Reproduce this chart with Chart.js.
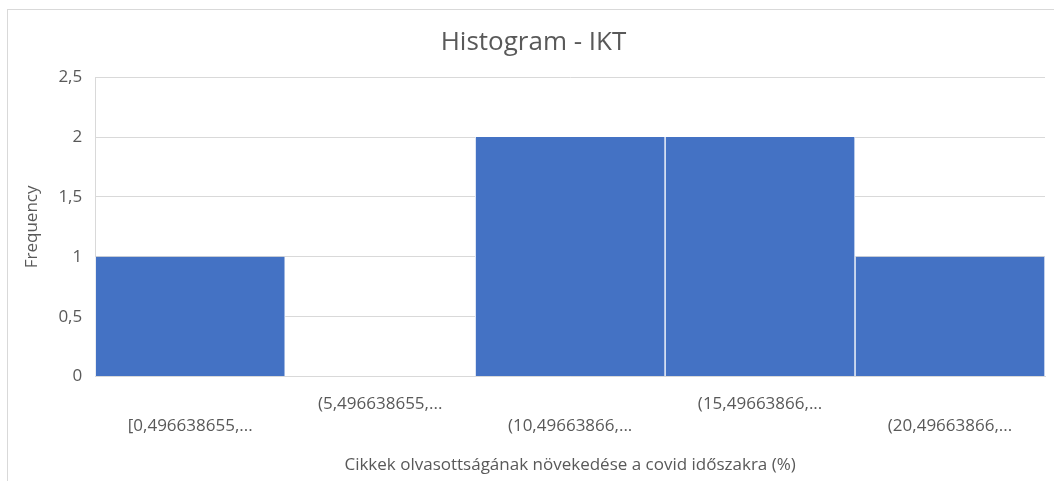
<!DOCTYPE html>
<html>
<head>
<meta charset="utf-8">
<script src="https://cdn.jsdelivr.net/npm/chart.js@4/dist/chart.umd.min.js"></script>
<style>
  html, body { margin: 0; padding: 0; background: #ffffff; }
  #wrap { width: 1054px; height: 481px; position: relative; }
</style>
</head>
<body>
<div id="wrap"><canvas id="histChart" width="1054" height="481"></canvas></div>
<script>
// adatok
const binLabels = [
    "[0,496638655,...",
    "(5,496638655,...",
    "(10,49663866,...",
    "(15,49663866,...",
    "(20,49663866,..."
];
const frequencies = [1, 0, 2, 2, 1];
const yMax = 2.5;
const yStep = 0.5;

const chartTitle = "Histogram - IKT";
const xTitle = "Cikkek olvasottságának növekedése a covid időszakra (%)";
const yTitle = "Frequency";

const textColor = "#595959";
const gridColor = "#d9d9d9";
const barColor = "#4472c4";
const fontFamily = "'Open Sans', sans-serif";

// lépcsőzetes címkék (mint Excelben)
const staggered = binLabels.map((lbl, i) => i % 2 === 1 ? [lbl, ""] : ["", lbl]);

const framePlugin = {
    id: "frame",
    beforeDraw(chart) {
        const ctx = chart.ctx;
        ctx.save();
        ctx.fillStyle = "#ffffff";
        ctx.fillRect(0, 0, chart.width, chart.height);
        ctx.strokeStyle = "#d9d9d9";
        ctx.lineWidth = 1;
        ctx.strokeRect(7.5, 9.5, chart.width + 10, chart.height + 10);
        ctx.restore();
    }
};

const canvasElement = document.getElementById("histChart");
const chartCanvas = canvasElement.getContext("2d");

new Chart(chartCanvas, {
    type: "bar",
    data: {
        labels: staggered,
        datasets: [{
            label: yTitle,
            data: frequencies,
            backgroundColor: barColor,
            borderColor: "#ffffff",
            borderWidth: { left: 1, right: 1, top: 0, bottom: 0 },
            categoryPercentage: 1.0,
            barPercentage: 1.0
        }]
    },
    options: {
        responsive: false,
        animation: false,
        layout: {
            padding: { left: 22, right: 9, top: 27, bottom: 6 }
        },
        plugins: {
            legend: { display: false },
            tooltip: { enabled: false },
            title: {
                display: true,
                text: chartTitle,
                color: textColor,
                font: { family: fontFamily, size: 26, weight: "normal" },
                padding: { top: 0, bottom: 19 }
            }
        },
        scales: {
            x: {
                grid: { display: false, drawTicks: false },
                border: { display: true, color: gridColor },
                ticks: {
                    color: textColor,
                    autoSkip: false,
                    maxRotation: 0,
                    minRotation: 0,
                    padding: 17,
                    font: { family: fontFamily, size: 17, lineHeight: 1.294 }
                },
                title: {
                    display: true,
                    text: xTitle,
                    color: textColor,
                    font: { family: fontFamily, size: 17 },
                    padding: { top: 0, bottom: 0 }
                }
            },
            y: {
                min: 0,
                max: yMax,
                grid: { color: gridColor, drawTicks: false },
                border: { display: true, color: gridColor },
                ticks: {
                    stepSize: yStep,
                    color: textColor,
                    padding: 13,
                    font: { family: fontFamily, size: 17 },
                    callback: v => String(v).replace(".", ",")
                },
                title: {
                    display: true,
                    text: yTitle,
                    color: textColor,
                    font: { family: fontFamily, size: 17 },
                    padding: { top: 0, bottom: 3 }
                }
            }
        }
    },
    plugins: [framePlugin]
});
</script>
</body>
</html>
